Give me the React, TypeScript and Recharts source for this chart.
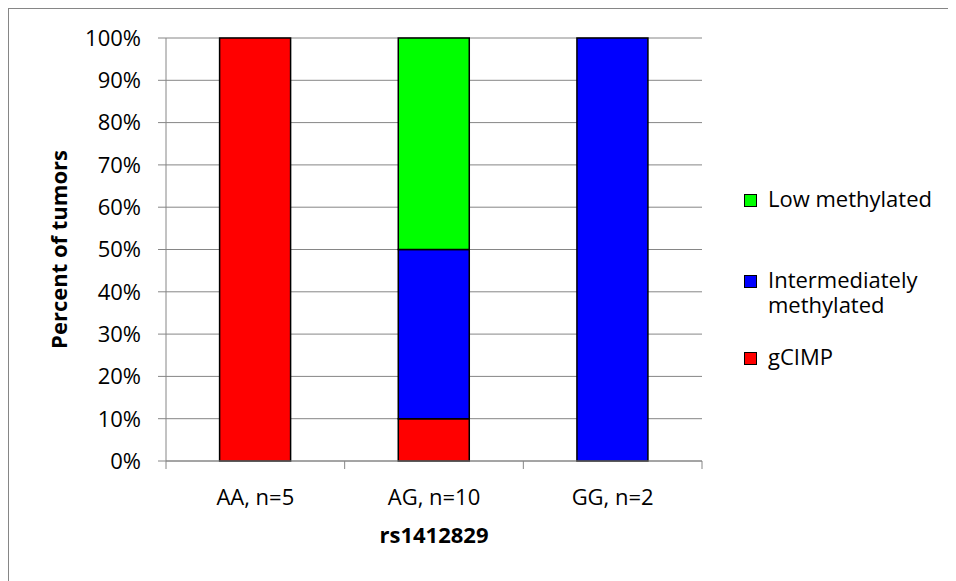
import React from "react";
import {
  BarChart,
  Bar,
  XAxis,
  YAxis,
  CartesianGrid,
  Legend,
  Label,
} from "recharts";

// genotype groups and tumor counts per methylation class
const GENOTYPES = ["AA, n=5", "AG, n=10", "GG, n=2"];
const GCIMP = [5, 1, 0];
const INTERMEDIATE = [0, 4, 2];
const LOW = [0, 5, 0];
const Y_TICKS = [0, 0.1, 0.2, 0.3, 0.4, 0.5, 0.6, 0.7, 0.8, 0.9, 1];

const SERIES = [
  { key: "gcimp", name: "gCIMP", color: "#FF0000" },
  { key: "intermediate", name: "Intermediately methylated", color: "#0000FF" },
  { key: "low", name: "Low methylated", color: "#00FF00" },
];

const data = GENOTYPES.map((g, i) => ({
  genotype: g,
  gcimp: GCIMP[i],
  intermediate: INTERMEDIATE[i],
  low: LOW[i],
}));

const FONT = "'Open Sans', sans-serif";
const GRAY = "#868686";
const TICK_SIZE = 8;
const TICK_MARGIN = 20;

// Excel style: tick marks sit between categories, labels in the middle
function CategoryTick(props: any) {
  const { x, y, payload, index, visibleTicksCount, width } = props;
  const band = width / visibleTicksCount;
  const y1 = y - TICK_MARGIN - TICK_SIZE;
  const y2 = y - TICK_MARGIN;
  return (
    <g>
      <line x1={x - band / 2} x2={x - band / 2} y1={y1} y2={y2} stroke={GRAY} />
      {index === visibleTicksCount - 1 && (
        <line x1={x + band / 2} x2={x + band / 2} y1={y1} y2={y2} stroke={GRAY} />
      )}
      <text
        x={x}
        y={y}
        dy={15.6}
        textAnchor="middle"
        fontSize={22}
        fontFamily={FONT}
        fill="#000"
      >
        {payload.value}
      </text>
    </g>
  );
}

function LegendBox() {
  const items = [...SERIES].reverse();
  const gaps = [0, 56, 27];
  return (
    <div style={{ fontFamily: FONT, fontSize: 22, lineHeight: "25px", color: "#000" }}>
      {items.map((s, i) => (
        <div key={s.key} style={{ display: "flex", marginTop: gaps[i] }}>
          <div
            style={{
              width: 11,
              height: 11,
              background: s.color,
              border: "1px solid #000",
              marginTop: 8,
              marginRight: 11,
              flexShrink: 0,
            }}
          />
          <div style={{ width: 175 }}>{s.name}</div>
        </div>
      ))}
    </div>
  );
}

export default function App() {
  return (
    <div
      style={{
        width: 947,
        height: 572,
        borderTop: `1px solid ${GRAY}`,
        borderLeft: `1px solid ${GRAY}`,
        background: "#fff",
      }}
    >
      <style>{"html,body{overflow:hidden}"}</style>
      <BarChart
        width={947}
        height={572}
        data={data}
        stackOffset="expand"
        barCategoryGap="30%"
        margin={{ top: 29, right: 254, bottom: 0, left: 0 }}
      >
        <CartesianGrid vertical={false} stroke={GRAY} />
        <XAxis
          dataKey="genotype"
          height={120}
          axisLine={{ stroke: GRAY }}
          tickLine={false}
          tickSize={TICK_SIZE}
          tickMargin={TICK_MARGIN}
          tick={<CategoryTick />}
          interval={0}
        >
          <Label
            content={({ viewBox }: any) => (
              <text
                x={viewBox.x + viewBox.width / 2}
                y={viewBox.y + 82}
                textAnchor="middle"
                fontSize={22}
                fontWeight="bold"
                fontFamily={FONT}
                fill="#000"
              >
                rs1412829
              </text>
            )}
          />
        </XAxis>
        <YAxis
          width={157}
          domain={[0, 1]}
          ticks={Y_TICKS}
          interval={0}
          tickFormatter={(v: number) => `${Math.round(v * 100)}%`}
          axisLine={{ stroke: GRAY }}
          tickLine={{ stroke: GRAY }}
          tickSize={TICK_SIZE}
          tickMargin={17}
          tick={{ fontSize: 22, fontFamily: FONT, fill: "#000" }}
        >
          <Label
            content={({ viewBox }: any) => {
              const cx = viewBox.x + 58;
              const cy = viewBox.y + viewBox.height / 2;
              return (
                <text
                  x={cx}
                  y={cy}
                  transform={`rotate(-90 ${cx} ${cy})`}
                  textAnchor="middle"
                  fontSize={22}
                  fontWeight="bold"
                  fontFamily={FONT}
                  fill="#000"
                >
                  Percent of tumors
                </text>
              );
            }}
          />
        </YAxis>
        <Legend
          layout="vertical"
          align="center"
          verticalAlign="middle"
          wrapperStyle={{ left: 735, top: 177, width: 205 }}
          content={() => <LegendBox />}
        />
        {SERIES.map((s) => (
          <Bar
            key={s.key}
            dataKey={s.key}
            name={s.name}
            stackId="a"
            fill={s.color}
            stroke="#000"
            strokeWidth={1.5}
            isAnimationActive={false}
          />
        ))}
      </BarChart>
    </div>
  );
}
